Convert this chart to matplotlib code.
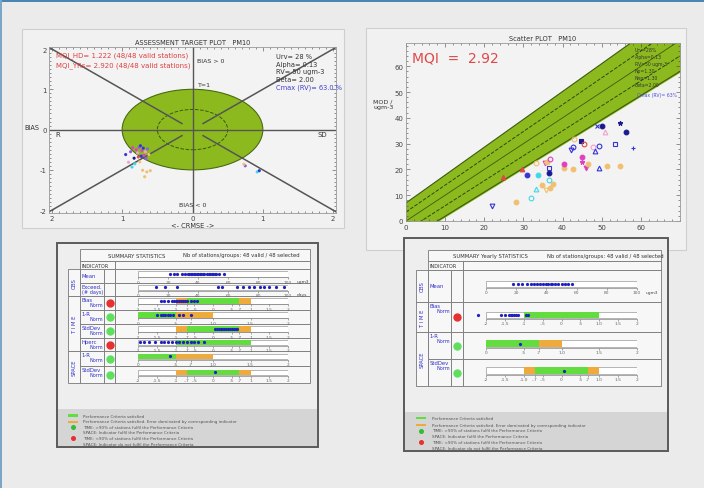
import matplotlib
matplotlib.use("Agg")
import matplotlib.pyplot as plt
from matplotlib.patches import Ellipse, Rectangle
from matplotlib.ticker import MultipleLocator

W, H = 704, 489

# colours used for the stations
B, N, M, P = '#3535d5', '#1a1a90', '#e040c0', '#f0a0d0'
C, T, R, V = '#40d8e8', '#f0c070', '#e04848', '#8a60e0'

# ---- target plot (normalised CRMSE signed R/SD side, normalised BIAS) ----
target_x = [-0.95, -0.83, -0.76, -0.74, -0.72, -0.69, -0.66, -0.78, -0.80, -0.70,
            -0.67, -0.85, -0.88, -0.91, -0.86, -0.82, -0.75, -0.71, -0.65, -0.60,
            -0.68, -0.73, -0.62, -0.77, -0.64, 0.75, 0.73, 0.92, 0.95]
target_y = [-0.62, -0.71, -0.44, -0.40, -0.52, -0.64, -0.72, -0.58, -0.50, -0.46,
            -0.55, -0.45, -0.55, -0.81, -0.93, -0.85, -0.80, -1.01, -1.05, -1.02,
            -1.17, -0.66, -0.62, -0.68, -0.48, -0.90, -0.86, -1.05, -1.02]
target_c = [B, N, V, B, M, M, V, P, M, B, P, M, V, P, C, C, T, T, T, T,
            T, B, T, R, V, V, T, C, B]
target_info = ["Urv= 28 %", "Alpha= 0.13", "RV= 50 ugm-3", "Beta= 2.00"]
target_cmax = "Cmax (RV)= 63.0 %"
mqi_lines = ["MQI_HD= 1.222 (48/48 valid stations)",
             "MQI_YRs= 2.920 (48/48 valid stations)"]

# ---- scatter plot (yearly means, ugm-3) ----
sc_obs = [21.9, 28.2, 32.0, 33.1, 34.7, 35.8, 36.9, 37.5, 36.5, 33.6,
          31.0, 36.5, 36.5, 33.3, 35.4, 36.1, 36.9, 29.7, 24.8, 40.3,
          40.3, 42.6, 42.2, 42.6, 43.0, 44.6, 45.0, 45.0, 46.0, 46.4,
          45.6, 47.7, 48.4, 49.4, 49.4, 48.9, 50.0, 50.9, 51.3, 53.5,
          54.7, 54.7, 56.2, 57.9]
sc_mod = [5.8, 7.5, 9.0, 12.5, 14.0, 12.0, 12.9, 14.2, 15.9, 18.0,
          17.8, 18.5, 20.4, 22.6, 22.6, 23.0, 23.9, 20.3, 17.2, 20.6,
          22.2, 20.0, 27.4, 28.6, 31.6, 31.2, 24.9, 22.8, 20.4, 22.0,
          29.7, 28.6, 27.1, 29.0, 20.6, 36.8, 36.8, 34.5, 21.3, 29.7,
          21.3, 38.0, 34.6, 28.4]
sc_col = [B, T, C, C, T, T, T, T, C, C,
          B, N, B, T, M, T, M, R, R, T,
          M, T, B, B, T, N, M, M, M, T,
          R, P, B, B, B, B, N, P, T, B,
          T, N, N, B]
sc_mk = ['v', 'o', 'o', '^', 'o', 'v', 'o', 'o', 'o', 'o',
         'o', 'o', 's', 'o', 'v', 'o', 'o', '^', '^', 'o',
         'o', 'o', 'v', 'o', 'o', 's', 'o', '*', 'v', 'o',
         'o', 'o', '^', 'o', '^', 'x', 'o', '^', 'o', 's',
         'o', '*', 'o', '+']
sc_fill = [0, 1, 0, 0, 1, 0, 1, 1, 0, 1,
           1, 1, 0, 0, 0, 1, 0, 1, 1, 1,
           1, 1, 0, 0, 0, 1, 1, 1, 1, 1,
           0, 0, 0, 0, 0, 1, 1, 0, 1, 0,
           1, 1, 1, 1]
band_obs = [0, 70]
band_up = [7.0, 82.6]
band_lo = [-7.5, 58.0]
band_in_up = [3.5, 76.3]
band_in_lo = [-3.75, 64.0]
sc_info = ["Urv=28%", "Alpha=0.13", "RV=50 ugm-3", "Np=1.30", "Nnp=1.30", "Beta=2.00"]
mqi_year = "MQI  =  2.92"

# ---- summary statistics tables ----
legend_text = ["Performance Criteria satisfied",
               "Performance Criteria satisfied. Error dominated by corresponding indicator",
               "TIME: >90% of stations fulfil the Performance Criteria",
               "SPACE: Indicator fulfil the Performance Criteria",
               "TIME: <90% of stations fulfil the Performance Criteria",
               "SPACE: Indicator do not fulfil the Performance Criteria"]

sym_ticks = [-2, -1.5, -1, -0.7, -0.5, 0, 0.5, 0.7, 1, 1.5, 2]
sym_labels = ['-2', '-1.5', '-1', '-.7', '-.5', '0', '.5', '.7', '1', '1.5', '2']
cor_ticks = [0, 0.5, 0.7, 1, 1.5, 2]
cor_labels = ['0', '.5', '.7', '1.0', '1.5', '2']
obs_ticks = [0, 20, 40, 60, 80, 100]

hd_mean = [21, 24, 26, 29, 31, 33, 34, 35, 36, 37, 38, 39, 40, 41, 42, 43,
           44, 46, 47, 48, 49, 50, 51, 52, 54, 57]
hd_exceed = [12, 18, 26, 53, 56, 66, 70, 74, 77, 81, 84, 87, 92, 97]
hd_bias = [-1.38, -1.3, -1.2, -1.1, -1.05, -1.0, -0.95, -0.9, -0.85, -0.8,
           -0.75, -0.7, -0.6, -0.5, -0.42]
hd_corr = [0.25, 0.3, 0.33, 0.36, 0.4, 0.43, 0.46, 0.55, 0.6, 0.7]
hd_std = [0.05, 0.1, 0.15, 0.2, 0.25, 0.3, 0.35, 0.4, 0.45, 0.5, 0.55, 0.6, 0.65]
hd_hperc = [-1.95, -1.85, -1.7, -1.55, -1.4, -1.3, -1.2, -1.1, -1.0, -0.9,
            -0.8, -0.7, -0.6, -0.5, -0.4, -0.25]
hd_sp_corr = [0.42]
hd_sp_std = [0.04]

yr_mean = [18, 21, 24, 27, 30, 32, 34, 36, 38, 40, 41, 43, 44, 46, 48, 50,
           52, 54, 57]
yr_bias = [-2.2, -1.6, -1.5, -1.4, -1.35, -1.3, -1.25, -1.2, -1.15, -0.95, -0.9]
yr_sp_corr = [0.45]
yr_sp_std = [0.06]

GREEN, ORANGE = '#62dc3e', '#eeaa3a'
DOT_R, DOT_G = '#e83030', '#5ee05e'
BLUE_TXT = '#3030c8'


def box(x0, y0, x1, y1):
    return [x0 / W, 1 - y1 / H, (x1 - x0) / W, (y1 - y0) / H]


fig = plt.figure(figsize=(W / 100, H / 100), dpi=100)
fig.patch.set_facecolor('#ebebeb')

lay = fig.add_axes([0, 0, 1, 1])
lay.set_xlim(0, W)
lay.set_ylim(H, 0)
lay.axis('off')
lay.add_patch(Rectangle((0, 0), W, 2.5, fc='#4a86b0', ec='none'))
lay.add_patch(Rectangle((0, 0), 2, H, fc='#7aa6c8', ec='none'))
lay.add_patch(Rectangle((22, 30), 322, 199, fc='#f1f1f1', ec='#cfcfcf', lw=0.8))
lay.add_patch(Rectangle((366, 29), 320, 222, fc='#f1f1f1', ec='#cfcfcf', lw=0.8))

# ================= target plot =================
ax = fig.add_axes(box(49, 48, 336, 214))
ax.set_facecolor('#f3f3f3')
ax.set_xlim(-2.04, 2.04)
ax.set_ylim(-2.07, 2.05)
ax.add_patch(Ellipse((0, 0), 2, 2, fc='#8cba1e', ec='#4a6a10', lw=0.8, zorder=1))
ax.add_patch(Ellipse((0, 0), 1, 1, fc='none', ec='#3a5a10', lw=0.7, ls='--', zorder=2))
ax.axhline(0, color='#555555', lw=1.0, zorder=2)
ax.axvline(0, color='#555555', lw=1.0, zorder=2)
for sx in (-1, 1):
    for sy in (-1, 1):
        ax.plot([sx * 2.1, sx * 0.15], [sy * 2.1, sy * 0.15], color='#555555', lw=1.1, zorder=2)
ax.scatter(target_x, target_y, s=5, c=target_c, zorder=3, linewidths=0)
ax.set_xticks([-2, -1, 0, 1, 2])
ax.set_xticklabels(['2', '1', '0', '1', '2'])
ax.set_yticks([-2, -1, 0, 1, 2])
ax.set_yticklabels(['-2', '-1', '0', '1', '2'])
ax.xaxis.set_minor_locator(MultipleLocator(0.1))
ax.yaxis.set_minor_locator(MultipleLocator(0.1))
ax.tick_params(which='both', direction='in', top=True, right=True, labelsize=5,
               colors='#444444', width=0.4, pad=1.5)
ax.tick_params(which='major', length=3)
ax.tick_params(which='minor', length=1.5)
for s in ax.spines.values():
    s.set_color('#999999')
    s.set_linewidth(0.6)
ax.set_title("ASSESSMENT TARGET PLOT   PM10", fontsize=4.8, color='#333333', pad=2.5)
ax.set_xlabel("<- CRMSE ->", fontsize=4.8, color='#333333', labelpad=1)
ax.set_ylabel("BIAS", fontsize=4.8, color='#333333', rotation=0, labelpad=6)
ax.text(0.06, 1.72, "BIAS > 0", fontsize=4.5, color='#333333', ha='left', va='center')
ax.text(0, -1.87, "BIAS < 0", fontsize=4.5, color='#333333', ha='center', va='center')
ax.text(0.17, 1.05, "T=1", fontsize=4.5, color='#333333', ha='center', va='bottom')
ax.text(-1.95, -0.12, "R", fontsize=5, color='#333333', ha='left', va='center')
ax.text(1.92, -0.12, "SD", fontsize=5, color='#333333', ha='right', va='center')
for i, line in enumerate(mqi_lines):
    ax.text(-1.94, 1.95 - i * 0.25, line, fontsize=5.0, color='#e04040', ha='left', va='top')
for i, line in enumerate(target_info):
    ax.text(1.18, 1.9 - i * 0.19, line, fontsize=4.8, color='#333333', ha='left', va='top')
ax.text(1.18, 1.9 - 4 * 0.19, target_cmax, fontsize=4.8, color='#4040d0', ha='left', va='top')

# ================= scatter plot =================
ax2 = fig.add_axes(box(406, 44, 680, 222))
ax2.set_facecolor('#f3f3f3')
ax2.set_xlim(0, 70)
ax2.set_ylim(0, 69)
ax2.fill_between(band_obs, band_lo, band_up, color='#8cba1e', zorder=1)
ax2.plot(band_obs, band_up, color='#3a5a10', lw=0.8, zorder=2)
ax2.plot(band_obs, band_lo, color='#3a5a10', lw=0.8, zorder=2)
ax2.plot(band_obs, band_obs, color='#3a5a10', lw=0.6, zorder=2)
ax2.plot(band_obs, band_in_up, color='#2a4a10', lw=0.7, ls='--', zorder=2)
ax2.plot(band_obs, band_in_lo, color='#2a4a10', lw=0.7, ls='--', zorder=2)
for xo, ym, c, mk, f in zip(sc_obs, sc_mod, sc_col, sc_mk, sc_fill):
    ax2.plot(xo, ym, marker=mk, ms=3.4, mec=c, mfc=c if f else 'none', mew=0.8,
             ls='none', zorder=3)
ax2.set_xticks(range(0, 70, 10))
ax2.set_yticks(range(0, 70, 10))
ax2.xaxis.set_minor_locator(MultipleLocator(2))
ax2.yaxis.set_minor_locator(MultipleLocator(2))
ax2.tick_params(which='both', direction='in', top=True, right=True, labelsize=5,
                colors='#444444', width=0.4, pad=2)
ax2.tick_params(which='major', length=3)
ax2.tick_params(which='minor', length=1.5)
for s in ax2.spines.values():
    s.set_color('#999999')
    s.set_linewidth(0.6)
ax2.set_title("Scatter PLOT   PM10", fontsize=4.8, color='#333333', pad=2.5)
ax2.text(-0.12, 0.66, "MOD /\nugm-3", transform=ax2.transAxes, fontsize=4.5,
         color='#333333', ha='left', va='center')
ax2.text(1.5, 66, mqi_year, fontsize=10, color='#e04848', ha='left', va='top')
for i, line in enumerate(sc_info):
    ax2.text(58.5, 67.5 - i * 2.7, line, fontsize=3.3, color='#333333', ha='left', va='top')
ax2.text(59, 50, "Cmax (RV)= 63%", fontsize=3.3, color='#5050e0', ha='left', va='top')


# ================= tables =================
def bar_row(px0, px1, py0, py1, lo, hi, ticks, labels, green, orange, pts, unit=None):
    a = fig.add_axes(box(px0, py0, px1, py1))
    a.set_xlim(lo, hi)
    a.set_ylim(0, 1)
    a.patch.set_alpha(0)
    for s in ('top', 'right', 'left'):
        a.spines[s].set_visible(False)
    a.spines['bottom'].set_position(('data', 0.4))
    a.spines['bottom'].set_color('#888888')
    a.spines['bottom'].set_linewidth(0.5)
    a.set_yticks([])
    a.set_xticks(ticks)
    a.set_xticklabels(labels)
    a.tick_params(axis='x', length=1.2, width=0.4, pad=0.4, labelsize=3.2,
                  colors='#666666')
    a.add_patch(Rectangle((lo, 0.45), hi - lo, 0.42, fc='white', ec='#999999', lw=0.5))
    for g0, g1 in green:
        a.add_patch(Rectangle((g0, 0.45), g1 - g0, 0.42, fc=GREEN, ec='none'))
    for o0, o1 in orange:
        a.add_patch(Rectangle((o0, 0.45), o1 - o0, 0.42, fc=ORANGE, ec='none'))
    a.plot(pts, [0.66] * len(pts), 'o', ms=1.3, color='#2020c0', clip_on=False)
    if unit:
        a.text(1.06, 0.15, unit, transform=a.transAxes, fontsize=3.2, color='#444444',
               ha='left', va='center')


def draw_table(outer, cols, head, groups, rows, names, dots, title, count, title_x, leg):
    ox0, oy0, ox1, oy1 = outer
    gx, nx, dx, bx, ex = cols
    hy0, hy1, iy1 = head
    lay.add_patch(Rectangle((ox0, oy0), ox1 - ox0, oy1 - oy0, fc='#eeeeee', ec='#5a5a5a',
                            lw=1.4, zorder=1))
    lay.add_patch(Rectangle((nx, hy0), ex - nx, hy1 - hy0, fc='#f7f7f7', ec='#777777',
                            lw=0.6, zorder=2))
    lay.text(title_x[0], (hy0 + hy1) / 2, title, fontsize=3.8, color='#333333',
             ha='center', va='center', zorder=3)
    lay.text(title_x[1], (hy0 + hy1) / 2, count, fontsize=3.8, color='#333333',
             ha='center', va='center', zorder=3)
    lay.add_patch(Rectangle((nx, hy1), bx - nx, iy1 - hy1, fc='#f7f7f7', ec='#777777',
                            lw=0.6, zorder=2))
    lay.add_patch(Rectangle((bx, hy1), ex - bx, iy1 - hy1, fc='#f7f7f7', ec='#777777',
                            lw=0.6, zorder=2))
    lay.text(nx + 1.5, (hy1 + iy1) / 2, "INDICATOR", fontsize=3.6, color='#333333',
             ha='left', va='center', zorder=3)
    for gname, g0, g1 in groups:
        lay.add_patch(Rectangle((gx, g0), nx - gx, g1 - g0, fc='#f7f7f7', ec='#777777',
                                lw=0.6, zorder=2))
        lay.text((gx + nx) / 2, (g0 + g1) / 2, gname, fontsize=3.8, color=BLUE_TXT,
                 rotation=90, ha='center', va='center', zorder=3)
    for (r0, r1), (n1, n2), d in zip(rows, names, dots):
        for c0, c1 in ((nx, dx), (dx, bx), (bx, ex)):
            lay.add_patch(Rectangle((c0, r0), c1 - c0, r1 - r0, fc='#f7f7f7',
                                    ec='#777777', lw=0.6, zorder=2))
        if n2:
            lay.text(nx + 1.5, r0 + 3.2, n1, fontsize=3.8, color=BLUE_TXT, ha='left',
                     va='center', zorder=3)
            lay.text(dx - 1.0, r0 + 8.4, n2, fontsize=3.6, color=BLUE_TXT, ha='right',
                     va='center', zorder=3)
        else:
            lay.text(nx + 1.5, (r0 + r1) / 2, n1, fontsize=3.8, color=BLUE_TXT,
                     ha='left', va='center', zorder=3)
        if d:
            lay.plot((dx + bx) / 2, (r0 + r1) / 2, 'o', ms=5, color=d, zorder=3)
    # legend band
    ly0, lys, mx, tx = leg
    lay.add_patch(Rectangle((ox0 + 0.7, ly0), ox1 - ox0 - 1.4, oy1 - ly0 - 0.7,
                            fc='#d5d5d5', ec='none', zorder=2))
    kinds = ['gbar', 'obar', 'gdot', None, 'rdot', None]
    for yy, txt, k in zip(lys, legend_text, kinds):
        if k == 'gbar':
            lay.add_patch(Rectangle((mx, yy - 1.3), 10, 2.6, fc=GREEN, ec='none', zorder=3))
        elif k == 'obar':
            lay.add_patch(Rectangle((mx, yy - 1.0), 10, 2.0, fc=ORANGE, ec='none', zorder=3))
        elif k == 'gdot':
            lay.plot(mx + 5, yy, 'o', ms=2.6, color='#30c030', zorder=3)
        elif k == 'rdot':
            lay.plot(mx + 5, yy, 'o', ms=2.6, color=DOT_R, zorder=3)
        lay.text(tx, yy, txt, fontsize=3.0, color='#555555', ha='left', va='center',
                 zorder=3)


# ---- left: summary statistics (hourly / daily) ----
rows_L = [(270, 284), (284, 297), (297, 311), (311, 325), (325, 339), (339, 352),
          (352, 367), (367, 384)]
names_L = [("Mean", ""), ("Exceed.", "(# days)"), ("Bias", "Norm"), ("1-R", "Norm"),
           ("StdDev", "Norm"), ("Hperc", "Norm"), ("1-R", "Norm"), ("StdDev", "Norm")]
dots_L = [None, None, DOT_R, DOT_G, DOT_G, DOT_R, DOT_G, DOT_G]
draw_table((57, 244, 318, 448), (68, 80, 104, 115, 310), (250, 262, 270),
           [("OBS", 270, 297), ("T I M E", 297, 352), ("SPACE", 352, 384)],
           rows_L, names_L, dots_L, "SUMMARY STATISTICS",
           "Nb of stations/groups: 48 valid / 48 selected", (137, 241),
           (410, [416.5, 422.5, 428, 433.5, 439, 444.5], 68, 83))
left_specs = [
    (0, 100, obs_ticks, [str(t) for t in obs_ticks], [], [], hd_mean, "ugm3"),
    (0, 100, obs_ticks, [str(t) for t in obs_ticks], [], [], hd_exceed, "days"),
    (-2, 2, sym_ticks, sym_labels, [(-0.7, 0.7)], [(-1, -0.7), (0.7, 1)], hd_bias, None),
    (0, 2, cor_ticks, cor_labels, [(0, 0.5)], [(0.5, 1.0)], hd_corr, None),
    (-2, 2, sym_ticks, sym_labels, [(-0.7, 0.7)], [(-1, -0.7), (0.7, 1)], hd_std, None),
    (-2, 2, sym_ticks, sym_labels, [(-1, 1)], [], hd_hperc, None),
    (0, 2, cor_ticks, cor_labels, [(0, 0.5)], [(0.5, 1.0)], hd_sp_corr, None),
    (-2, 2, sym_ticks, sym_labels, [(-0.7, 0.7)], [(-1, -0.7), (0.7, 1)], hd_sp_std, None),
]
for (r0, r1), spec in zip(rows_L, left_specs):
    rc = (r0 + r1) / 2
    bar_row(138, 288, rc - 6.5, rc + 6.5, *spec)

# ---- right: summary yearly statistics ----
rows_R = [(271, 303), (303, 333), (333, 360), (360, 387)]
names_R = [("Mean", ""), ("Bias", "Norm"), ("1-R", "Norm"), ("StdDev", "Norm")]
dots_R = [None, DOT_R, DOT_G, DOT_G]
draw_table((404, 239, 668, 452), (416, 428, 451, 463, 661), (251, 262, 271),
           [("OBS", 271, 303), ("T I M E", 303, 333), ("SPACE", 333, 387)],
           rows_R, names_R, dots_R, "SUMMARY Yearly STATISTICS",
           "Nb of stations/groups: 48 valid / 48 selected", (490, 605),
           (413, [419, 425.5, 431.5, 437, 443, 448.5], 416, 432))
sym_labels_r = ['-2', '-1.5', '-1.0', '-.7', '-.5', '0', '.5', '.7', '1.0', '1.5', '2']
bias_ticks_r = [-2, -1.5, -1, -0.5, 0, 0.5, 1, 1.5, 2]
bias_labels_r = ['-2', '-1.5', '-1', '-.5', '0', '.5', '1.0', '1.5', '2']
right_specs = [
    (0, 100, obs_ticks, [str(t) for t in obs_ticks], [], [], yr_mean, "ugm3"),
    (-2, 2, bias_ticks_r, bias_labels_r, [(-1, 1)], [], yr_bias, None),
    (0, 2, cor_ticks, cor_labels, [(0, 0.7)], [(0.7, 1.0)], yr_sp_corr, None),
    (-2, 2, sym_ticks, sym_labels_r, [(-0.7, 0.7)], [(-1, -0.7), (0.7, 1)], yr_sp_std, None),
]
for (r0, r1), spec in zip(rows_R, right_specs):
    rc = (r0 + r1) / 2
    bar_row(486, 637, rc - 7, rc + 8, *spec)

fig.savefig("out.png", dpi=100, facecolor=fig.get_facecolor())
